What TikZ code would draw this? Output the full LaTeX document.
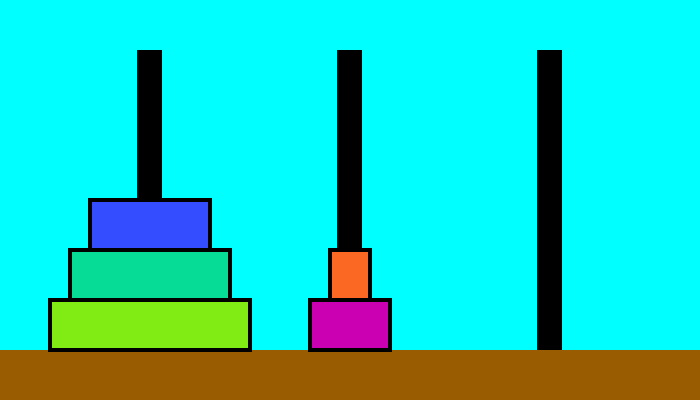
\documentclass[tikz,border=0pt]{standalone}
\definecolor{sky}{RGB}{0,255,255}
\definecolor{ground}{RGB}{153,92,0}
\definecolor{diskblue}{RGB}{51,77,255}
\definecolor{diskgreen}{RGB}{6,220,150}
\definecolor{disklime}{RGB}{128,236,20}
\definecolor{diskorange}{RGB}{250,104,36}
\definecolor{diskmagenta}{RGB}{204,0,179}
\begin{document}
\begin{tikzpicture}[x=1pt,y=-1pt,
  pole/.style={fill=black,draw=none,minimum width=25pt,minimum height=300pt,inner sep=0pt,outer sep=0pt},
  disk/.style={draw=black,line width=4pt,minimum height=50pt,inner sep=0pt,outer sep=0pt}]
\useasboundingbox (0,0) rectangle (700,400);
\fill[sky] (0,0) rectangle (700,400);
\fill[ground] (0,350) rectangle (700,400);
\node[pole] (p1) at (149.5,200) {};
\node[pole] (p2) at (349.5,200) {};
\node[pole] (p3) at (549.5,200) {};
\node[disk,fill=disklime,minimum width=200pt] (d1) at (150,325) {};
\node[disk,fill=diskgreen,minimum width=160pt] (d2) at (150,275) {};
\node[disk,fill=diskblue,minimum width=120pt] (d3) at (150,225) {};
\node[disk,fill=diskmagenta,minimum width=80pt] (d4) at (350,325) {};
\node[disk,fill=diskorange,minimum width=40pt] (d5) at (350,275) {};
\end{tikzpicture}
\end{document}
